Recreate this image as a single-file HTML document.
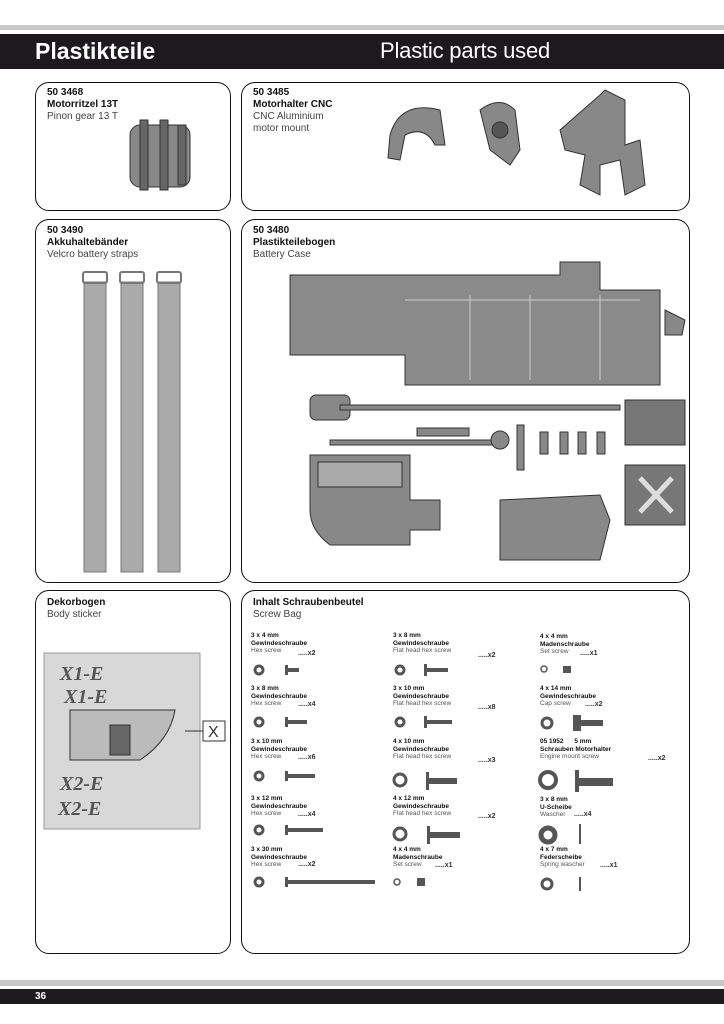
<!DOCTYPE html>
<html><head><meta charset="utf-8"><style>
*{margin:0;padding:0;box-sizing:border-box}
body{width:724px;height:1024px;background:#fff;position:relative;overflow:hidden;font-family:"Liberation Sans",sans-serif;color:#111}
.a{position:absolute;white-space:nowrap}
.box{position:absolute;border:1.5px solid #111;border-radius:14px}
.t{font-size:10px;line-height:12px}
.t b{font-weight:bold}
.t span{color:#444}
.s{position:absolute;font-size:6.5px;line-height:7.5px;white-space:nowrap}
.s b{font-weight:bold}
.s span{color:#555}
.q{position:absolute;font-size:7px;font-weight:bold;color:#333}
</style></head><body>
<div class="a" style="left:0;top:25px;width:724px;height:5px;background:#c8c7ca"></div>
<div class="a" style="left:0;top:34px;width:724px;height:35px;background:#1c1a1d"></div>
<div class="a" style="left:35px;top:36px;color:#fff;font-size:23px;font-weight:bold;line-height:30px">Plastikteile</div>
<div class="a" style="left:380px;top:36px;color:#fff;font-size:22px;line-height:30px;letter-spacing:-0.2px">Plastic parts used</div>

<div class="box" style="left:35px;top:82px;width:196px;height:129px"></div>
<div class="box" style="left:241px;top:82px;width:449px;height:129px"></div>
<div class="box" style="left:35px;top:219px;width:196px;height:364px"></div>
<div class="box" style="left:241px;top:219px;width:449px;height:364px"></div>
<div class="box" style="left:35px;top:590px;width:196px;height:364px"></div>
<div class="box" style="left:241px;top:590px;width:449px;height:364px"></div>

<div class="a t" style="left:47px;top:87px"><b>50 3468<br>Motorritzel 13T</b><br><span>Pinon gear 13 T</span></div>
<div class="a t" style="left:253px;top:87px"><b>50 3485<br>Motorhalter CNC</b><br><span>CNC Aluminium<br>motor mount</span></div>
<div class="a t" style="left:47px;top:225px"><b>50 3490<br>Akkuhaltebänder</b><br><span>Velcro battery straps</span></div>
<div class="a t" style="left:253px;top:225px"><b>50 3480<br>Plastikteilebogen</b><br><span>Battery Case</span></div>
<div class="a t" style="left:47px;top:597px"><b>Dekorbogen</b><br><span>Body sticker</span></div>
<div class="a t" style="left:253px;top:597px"><b>Inhalt Schraubenbeutel</b><br><span>Screw Bag</span></div>

<svg class="a" style="left:0;top:0" width="724" height="1024">
<g fill="#888" stroke="#333" stroke-width="1">
<rect x="130" y="125" width="60" height="62" rx="10"/>
<g fill="#666"><rect x="140" y="120" width="8" height="70"/><rect x="160" y="120" width="8" height="70"/><rect x="178" y="125" width="8" height="60"/></g>
<path d="M390 135 Q400 100 440 110 L445 145 L435 145 Q425 125 405 135 L400 160 L388 158Z"/>
<path d="M480 110 Q500 95 515 110 L520 150 L510 165 L490 150 Z"/>
<circle cx="500" cy="130" r="8" fill="#555"/>
<path d="M560 130 L600 95 L605 90 L625 100 L625 145 L640 140 L645 185 L625 195 L620 160 L600 165 L600 195 L580 185 L585 155 L565 150Z"/>
<g fill="#aaa" stroke="#777"><rect x="84" y="282" width="22" height="290"/><rect x="121" y="282" width="22" height="290"/><rect x="158" y="282" width="22" height="290"/></g>
<g fill="none" stroke="#777" stroke-width="2"><rect x="83" y="272" width="24" height="11" rx="2"/><rect x="120" y="272" width="24" height="11" rx="2"/><rect x="157" y="272" width="24" height="11" rx="2"/></g>
<path d="M290 275 L560 275 L560 262 L600 262 L600 290 L660 290 L660 385 L405 385 L405 355 L290 355Z" fill="#8a8a8a"/>
<g fill="none" stroke="#ccc"><line x1="470" y1="295" x2="470" y2="380"/><line x1="530" y1="295" x2="530" y2="380"/><line x1="600" y1="295" x2="600" y2="380"/><line x1="405" y1="300" x2="640" y2="300"/></g>
<path d="M665 310 L685 320 L682 335 L665 335Z"/>
<path d="M310 455 L410 455 L410 500 L440 500 L440 530 L410 530 L410 545 L330 545 Q310 530 310 510Z"/>
<rect x="318" y="462" width="84" height="25" fill="#aaa"/>
<path d="M500 500 L600 495 L610 520 L600 560 L500 560Z"/>
<rect x="625" y="400" width="60" height="45" fill="#777"/>
<rect x="625" y="465" width="60" height="60" fill="#777"/>
<path d="M640 478 L672 512 M672 478 L640 512" stroke="#ddd" stroke-width="5"/>
<rect x="310" y="395" width="40" height="25" rx="6"/>
<rect x="417" y="428" width="52" height="8"/>
<rect x="340" y="405" width="280" height="5"/>
<rect x="330" y="440" width="165" height="5"/>
<circle cx="500" cy="440" r="9"/>
<g><rect x="540" y="432" width="8" height="22"/><rect x="560" y="432" width="8" height="22"/><rect x="578" y="432" width="8" height="22"/><rect x="597" y="432" width="8" height="22"/><rect x="517" y="425" width="7" height="45"/></g>
<rect x="44" y="653" width="156" height="176" fill="#d8d8d8" stroke="#999"/>
<rect x="203" y="721" width="22" height="20" fill="#fff" stroke="#333"/>
<path d="M185 731 L203 731" stroke="#333"/>
<path d="M70 710 L175 710 Q170 740 140 760 L70 760 Z" fill="#bbb"/>
<rect x="110" y="725" width="20" height="30" fill="#666"/>
</g>
<g font-family="Liberation Serif" font-style="italic" font-weight="bold" fill="#555" font-size="20">
<text x="60" y="680">X1-E</text><text x="64" y="703">X1-E</text><text x="60" y="790">X2-E</text><text x="58" y="815">X2-E</text></g>
<text x="208" y="737" font-size="16" fill="#333">X</text>
<g fill="#fff" stroke="#555" stroke-width="3">
<circle cx="259" cy="670" r="4"/><circle cx="259" cy="722" r="4"/><circle cx="259" cy="776" r="4"/><circle cx="259" cy="830" r="4"/><circle cx="259" cy="882" r="4"/>
<circle cx="400" cy="670" r="4"/><circle cx="400" cy="722" r="4"/><circle cx="400" cy="780" r="6"/><circle cx="400" cy="834" r="6"/><circle cx="397" cy="882" r="3" stroke-width="1.5"/>
<circle cx="544" cy="669" r="3" stroke-width="1.5"/><circle cx="547" cy="723" r="5"/><circle cx="548" cy="780" r="8" stroke-width="4"/><circle cx="548" cy="835" r="7" stroke-width="5"/><circle cx="547" cy="884" r="5"/>
</g>
<g fill="#555">
<rect x="285" y="668" width="14" height="4"/><rect x="285" y="665" width="3" height="10"/>
<rect x="285" y="720" width="22" height="4"/><rect x="285" y="717" width="3" height="10"/>
<rect x="285" y="774" width="30" height="4"/><rect x="285" y="771" width="3" height="10"/>
<rect x="285" y="828" width="38" height="4"/><rect x="285" y="825" width="3" height="10"/>
<rect x="285" y="880" width="90" height="4"/><rect x="285" y="877" width="3" height="10"/>
<rect x="425" y="668" width="23" height="4"/><rect x="424" y="664" width="3" height="12"/>
<rect x="425" y="720" width="27" height="4"/><rect x="424" y="716" width="3" height="12"/>
<rect x="427" y="778" width="30" height="6"/><rect x="426" y="772" width="3" height="18"/>
<rect x="428" y="832" width="32" height="6"/><rect x="427" y="826" width="3" height="18"/>
<rect x="417" y="878" width="8" height="8"/>
<rect x="563" y="666" width="8" height="7"/>
<rect x="573" y="720" width="30" height="6"/><rect x="573" y="715" width="8" height="16"/>
<rect x="578" y="778" width="35" height="8"/><rect x="575" y="770" width="4" height="22"/>
<rect x="579" y="824" width="2" height="20"/>
<rect x="579" y="877" width="2" height="14"/>
</g>
</svg>

<div class="s" style="left:251px;top:632px"><b>3 x 4 mm<br>Gewindeschraube</b><br><span>Hex screw</span></div><div class="q" style="left:298px;top:650px">.....x2</div>
<div class="s" style="left:251px;top:685px"><b>3 x 8 mm<br>Gewindeschraube</b><br><span>Hex screw</span></div><div class="q" style="left:298px;top:701px">.....x4</div>
<div class="s" style="left:251px;top:738px"><b>3 x 10 mm<br>Gewindeschraube</b><br><span>Hex screw</span></div><div class="q" style="left:298px;top:754px">.....x6</div>
<div class="s" style="left:251px;top:795px"><b>3 x 12 mm<br>Gewindeschraube</b><br><span>Hex screw</span></div><div class="q" style="left:298px;top:811px">.....x4</div>
<div class="s" style="left:251px;top:846px"><b>3 x 30 mm<br>Gewindeschraube</b><br><span>Hex screw</span></div><div class="q" style="left:298px;top:861px">.....x2</div>

<div class="s" style="left:393px;top:632px"><b>3 x 8 mm<br>Gewindeschraube</b><br><span>Flat head hex screw</span></div><div class="q" style="left:478px;top:652px">.....x2</div>
<div class="s" style="left:393px;top:685px"><b>3 x 10 mm<br>Gewindeschraube</b><br><span>Flat head hex screw</span></div><div class="q" style="left:478px;top:704px">.....x8</div>
<div class="s" style="left:393px;top:738px"><b>4 x 10 mm<br>Gewindeschraube</b><br><span>Flat head hex screw</span></div><div class="q" style="left:478px;top:757px">.....x3</div>
<div class="s" style="left:393px;top:795px"><b>4 x 12 mm<br>Gewindeschraube</b><br><span>Flat head hex screw</span></div><div class="q" style="left:478px;top:813px">.....x2</div>
<div class="s" style="left:393px;top:846px"><b>4 x 4 mm<br>Madenschraube</b><br><span>Set screw</span></div><div class="q" style="left:435px;top:862px">.....x1</div>

<div class="s" style="left:540px;top:633px"><b>4 x 4 mm<br>Madenschraube</b><br><span>Set screw</span></div><div class="q" style="left:580px;top:650px">.....x1</div>
<div class="s" style="left:540px;top:685px"><b>4 x 14 mm<br>Gewindeschraube</b><br><span>Cap screw</span></div><div class="q" style="left:585px;top:701px">.....x2</div>
<div class="s" style="left:540px;top:738px"><b>05 1952 &nbsp; &nbsp; &nbsp;5 mm<br>Schrauben Motorhalter</b><br><span>Engine mount screw</span></div><div class="q" style="left:648px;top:755px">.....x2</div>
<div class="s" style="left:540px;top:796px"><b>3 x 8 mm<br>U-Scheibe</b><br><span>Wascher</span></div><div class="q" style="left:574px;top:811px">.....x4</div>
<div class="s" style="left:540px;top:846px"><b>4 x 7 mm<br>Federscheibe</b><br><span>Spring wascher</span></div><div class="q" style="left:600px;top:862px">.....x1</div>

<div class="a" style="left:0;top:980px;width:724px;height:6px;background:#c8c7ca"></div>
<div class="a" style="left:0;top:989px;width:724px;height:15px;background:#1c1a1d"></div>
<div class="a" style="left:35px;top:990px;color:#fff;font-size:10px;font-weight:bold;line-height:13px">36</div>
</body></html>
